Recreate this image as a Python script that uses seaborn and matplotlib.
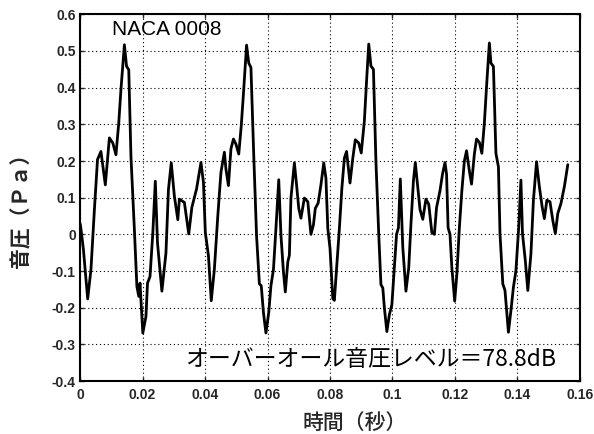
import numpy as np
import pandas as pd
import matplotlib
matplotlib.use("Agg")
import matplotlib.pyplot as plt
import seaborn as sns

# time (s) and sound pressure (Pa)
time_s = [
    0.0000, 0.0002, 0.0011, 0.00245, 0.0035, 0.0046, 0.0056, 0.0067, 0.0081, 0.0094,
    0.0105, 0.0115, 0.0124, 0.0131, 0.0142, 0.0149, 0.0156, 0.0163, 0.0174, 0.0182,
    0.0188, 0.0192, 0.0201, 0.0211, 0.0216, 0.0224, 0.0233, 0.0241, 0.0248, 0.0262,
    0.0275, 0.0283, 0.0292, 0.0302, 0.0313, 0.0318, 0.0334, 0.0348, 0.0358, 0.0373,
    0.0387, 0.0395, 0.0401, 0.0411, 0.0420, 0.0430, 0.0441, 0.0451, 0.0462, 0.0467,
    0.0475, 0.0483, 0.0491, 0.0499, 0.0508, 0.0516, 0.0524, 0.0533, 0.0540, 0.0547,
    0.0556, 0.0565, 0.0574, 0.0580, 0.0587, 0.0595, 0.0604, 0.0611, 0.0619, 0.0627,
    0.0636, 0.0643, 0.0651, 0.0657, 0.0665, 0.0670, 0.0675, 0.0686, 0.0693, 0.0700,
    0.0707, 0.0718, 0.0729, 0.0739, 0.0747, 0.0753, 0.0762, 0.0771, 0.0780, 0.0787,
    0.0793, 0.0800, 0.0809, 0.0814, 0.0821, 0.0830, 0.0838, 0.0846, 0.0853, 0.0860,
    0.0864, 0.0873, 0.0881, 0.0892, 0.0900, 0.0910, 0.0917, 0.0924, 0.0931, 0.0939,
    0.0947, 0.0956, 0.0963, 0.0969, 0.0974, 0.0982, 0.0990, 0.0998, 0.1006, 0.1013,
    0.1019, 0.1025, 0.1033, 0.1043, 0.1052, 0.1059, 0.1067, 0.1073, 0.1082, 0.1088,
    0.1097, 0.1107, 0.1116, 0.1126, 0.1134, 0.1141, 0.1152, 0.1160, 0.1168, 0.1173,
    0.1178, 0.1184, 0.1190, 0.1199, 0.1206, 0.1214, 0.1222, 0.1230, 0.1237, 0.1246,
    0.1253, 0.1262, 0.1269, 0.1278, 0.1286, 0.1294, 0.1301, 0.1310, 0.1315, 0.1323,
    0.1331, 0.1339, 0.1344, 0.1353, 0.1360, 0.1371, 0.1379, 0.1387, 0.1395, 0.1404,
    0.1411, 0.1416, 0.1425, 0.1433, 0.1443, 0.1451, 0.1461, 0.1470, 0.1479, 0.1486,
    0.1494, 0.1504, 0.1513, 0.1521, 0.1529, 0.1539, 0.1550, 0.1561,
]
pressure_pa = [
    0.030, 0.022, -0.042, -0.176, -0.096, 0.067, 0.204, 0.226, 0.135, 0.263,
    0.249, 0.217, 0.304, 0.395, 0.517, 0.458, 0.449, 0.213, 0.013, -0.142,
    -0.169, -0.133, -0.269, -0.224, -0.133, -0.115, 0.004, 0.145, -0.024, -0.155,
    -0.051, 0.122, 0.195, 0.104, 0.040, 0.096, 0.087, 0.001, 0.074, 0.124,
    0.196, 0.142, 0.005, -0.058, -0.181, -0.095, 0.051, 0.169, 0.224, 0.178,
    0.133, 0.233, 0.260, 0.246, 0.219, 0.296, 0.396, 0.516, 0.467, 0.455,
    0.215, -0.004, -0.135, -0.140, -0.213, -0.269, -0.213, -0.140, -0.096, 0.016,
    0.149, -0.002, -0.102, -0.157, -0.075, -0.057, 0.099, 0.195, 0.135, 0.071,
    0.044, 0.099, 0.089, 0.000, 0.026, 0.071, 0.085, 0.135, 0.195, 0.153,
    0.016, -0.038, -0.175, -0.180, -0.093, 0.016, 0.126, 0.208, 0.226, 0.172,
    0.140, 0.208, 0.258, 0.249, 0.222, 0.309, 0.418, 0.519, 0.459, 0.450,
    0.199, 0.000, -0.137, -0.146, -0.200, -0.265, -0.219, -0.192, -0.091, 0.000,
    0.018, 0.151, -0.036, -0.155, -0.091, 0.027, 0.146, 0.196, 0.119, 0.068,
    0.041, 0.096, 0.082, 0.005, 0.000, 0.073, 0.119, 0.164, 0.196, 0.164,
    0.018, 0.000, -0.091, -0.182, -0.109, 0.018, 0.119, 0.200, 0.228, 0.173,
    0.137, 0.219, 0.260, 0.251, 0.221, 0.303, 0.403, 0.522, 0.467, 0.458,
    0.221, 0.184, 0.002, -0.135, -0.153, -0.267, -0.208, -0.144, -0.099, 0.020,
    0.148, 0.002, -0.071, -0.153, -0.053, 0.093, 0.198, 0.130, 0.075, 0.043,
    0.093, 0.089, 0.038, 0.002, 0.057, 0.084, 0.130, 0.190,
]

x_ticks = [0, 0.02, 0.04, 0.06, 0.08, 0.1, 0.12, 0.14, 0.16]
x_tick_labels = ["0", "0.02", "0.04", "0.06", "0.08", "0.1", "0.12", "0.14", "0.16"]
y_ticks = [-0.4, -0.3, -0.2, -0.1, 0, 0.1, 0.2, 0.3, 0.4, 0.5, 0.6]
y_tick_labels = ["-0.4", "-0.3", "-0.2", "-0.1", "0", "0.1", "0.2", "0.3", "0.4", "0.5", "0.6"]

title_text = "NACA 0008"
note_text = "オーバーオール音圧レベル＝78.8dB"
x_label = "時間（秒）"
y_label = "音圧（Ｐａ）"

sns.set_style("ticks")
plt.rcParams["font.family"] = ["Liberation Sans", "Noto Sans CJK JP", "DejaVu Sans"]
cjk = ["Noto Sans CJK JP", "DejaVu Sans"]

df = pd.DataFrame({"t": time_s, "p": pressure_pa})

fig = plt.figure(figsize=(5.94, 4.34), dpi=100)
ax = fig.add_axes([0.1347, 0.122, 0.8417, 0.845])

sns.lineplot(data=df, x="t", y="p", ax=ax, color="black", linewidth=2.0, sort=False)

ax.set_xlim(0, 0.16)
ax.set_ylim(-0.4, 0.6)
ax.set_xticks(x_ticks)
ax.set_xticklabels(x_tick_labels, fontweight="bold", fontsize=10)
ax.set_yticks(y_ticks)
ax.set_yticklabels(y_tick_labels, fontweight="bold", fontsize=10)
ax.tick_params(direction="in", length=3, width=1, top=True, right=True)
ax.tick_params(axis="x", pad=5)
ax.tick_params(axis="y", pad=3)
ax.grid(True, color="black", linestyle=(0, (1, 2.5)), linewidth=0.8)
for sp in ax.spines.values():
    sp.set_visible(True)
    sp.set_linewidth(1.5)
    sp.set_color("black")

ax.set_xlabel(x_label, fontsize=15, family=cjk, fontweight="medium")
ax.xaxis.set_label_coords(0.55, -0.083)
ax.set_ylabel(y_label, fontsize=15, family=cjk, fontweight="bold")
ax.yaxis.set_label_coords(-0.098, 0.48)

ax.text(0.0101, 0.559, title_text, fontsize=15, ha="left", va="center",
        color="black", family=["Liberation Sans", "DejaVu Sans"])
ax.text(0.0336, -0.3425, note_text, fontsize=16.5, ha="left", va="center",
        color="black", family=cjk)

fig.savefig("out.png", dpi=100, facecolor="white")
